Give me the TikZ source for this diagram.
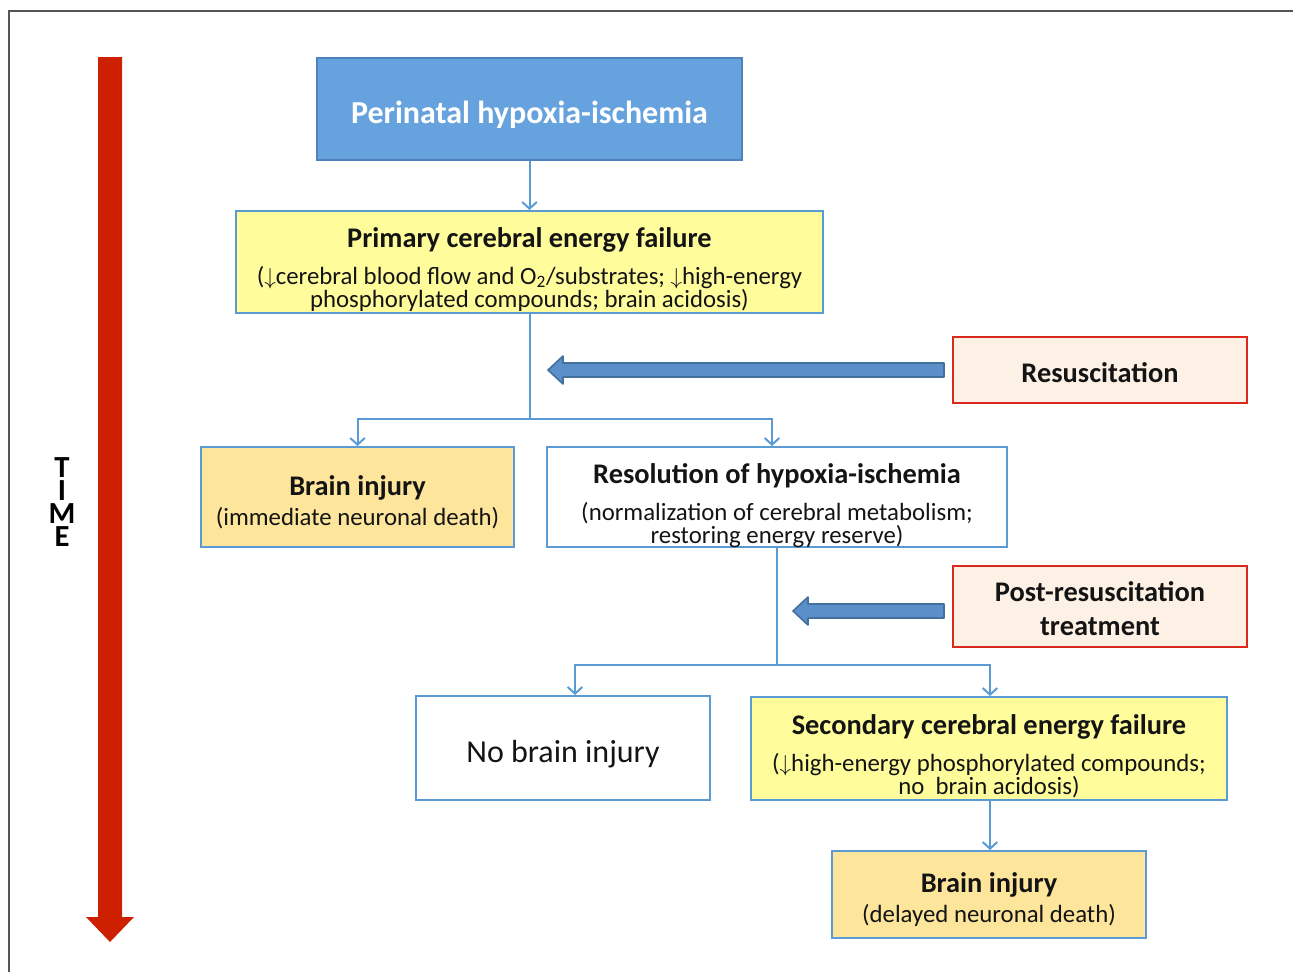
\documentclass[tikz,border=0pt]{standalone}
\usepackage{fontspec}
\setmainfont{Carlito}
\usetikzlibrary{arrows.meta,calc}
\definecolor{framegray}{RGB}{85,85,85}
\definecolor{timered}{RGB}{205,32,0}
\definecolor{hifill}{RGB}{102,163,222}
\definecolor{hiborder}{RGB}{79,129,189}
\definecolor{connblue}{RGB}{91,155,213}
\definecolor{yfill}{RGB}{255,252,155}
\definecolor{ofill}{RGB}{253,229,155}
\definecolor{peach}{RGB}{253,241,230}
\definecolor{redborder}{RGB}{218,40,30}
\definecolor{bafill}{RGB}{91,143,201}
\definecolor{baborder}{RGB}{65,113,156}
\definecolor{txt}{RGB}{20,20,20}
\newcommand{\hd}[1]{{\fontsize{21.3}{17.25}\selectfont\bfseries #1}}
\tikzset{
  box/.style={draw=connblue, line width=1.5pt, inner sep=0pt},
  ybox/.style={box, fill=yfill},
  obox/.style={box, fill=ofill},
  wbox/.style={box, fill=white},
  rbox/.style={box, draw=redborder, fill=peach},
  btext/.style={inner sep=0pt, align=center, text=txt,
    font={\fontsize{18.6}{17.25}\selectfont\lineskiplimit=-20pt}},
  conn/.style={draw=connblue, line width=1.5pt},
  tip/.style={conn, -{Straight Barb[length=5pt,width=11pt,line width=1.5pt]}},
  blockarrow/.style={fill=bafill, draw=baborder, line width=1.2pt, line join=round},
}
\begin{document}
\begin{tikzpicture}[x=0.75pt,y=-0.75pt]
\useasboundingbox (0,0) rectangle (1293,972);
\draw[framegray, line width=1.6pt] (1293,11) -- (9,11) -- (9,972);
% time arrow
\fill[timered] (98,57) -- (122,57) -- (122,917) -- (134,917) -- (110,942) -- (86,917) -- (98,917) -- cycle;
\node[font={\fontsize{23}{17.25}\selectfont\bfseries}, align=center, inner sep=0pt] (time) at (62,502) {T\\I\\M\\E};
% boxes
\node[draw=hiborder, fill=hifill, line width=1.5pt, minimum width=318.75pt, minimum height=76.5pt] (hi) at (529.5,109) {};
\node[text=white, font={\fontsize{24}{28}\selectfont\bfseries}, inner sep=0pt] (hi-t) at ([yshift=-4.5pt]hi.center) {Perinatal hypoxia-ischemia};

\node[ybox, minimum width=440.25pt, minimum height=76.5pt] (pri) at (529.5,262) {};
\node[btext] (pri-t) at ([yshift=-5.6pt]pri.center)
  {\hd{Primary cerebral energy failure}\\[10.5pt](${\downarrow}$cerebral blood flow and O\textsubscript{2}/substrates; ${\downarrow}$high-energy\\phosphorylated compounds; brain acidosis)};

\node[rbox, minimum width=220.5pt, minimum height=49.5pt] (res) at (1100,370) {};
\node[btext] (res-t) at ([yshift=-2.25pt]res.center) {\hd{Resuscitation}};

\node[obox, minimum width=234.75pt, minimum height=75pt] (bi1) at (357.5,497) {};
\node[btext] (bi1-t) at ([yshift=-3.75pt]bi1.center) {\hd{Brain injury}\\[5.6pt](immediate neuronal death)};

\node[wbox, minimum width=345pt, minimum height=75pt] (rol) at (777,497) {};
\node[btext] (rol-t) at ([yshift=-6.4pt]rol.center)
  {\hd{Resolution of hypoxia-ischemia}\\[10.5pt](normalization of cerebral metabolism;\\restoring energy reserve)};

\node[rbox, minimum width=220.5pt, minimum height=60.75pt] (post) at (1100,606.5) {};
\node[btext] (post-t) at ([yshift=-1.5pt]post.center) {\hd{Post-resuscitation}\\[8.25pt]\hd{treatment}};

\node[wbox, minimum width=220.5pt, minimum height=78pt] (nbi) at (563,748) {};
\node[btext, font={\fontsize{24}{28}\selectfont}] (nbi-t) at ([yshift=-4.5pt]nbi.center) {No brain injury};

\node[ybox, minimum width=357pt, minimum height=77.25pt] (sec) at (989,748.5) {};
\node[btext] (sec-t) at ([yshift=-5.6pt]sec.center)
  {\hd{Secondary cerebral energy failure}\\[10.5pt](${\downarrow}$high-energy phosphorylated compounds;\\no\ \ brain acidosis)};

\node[obox, minimum width=235.5pt, minimum height=65.25pt] (bi2) at (989,894.5) {};
\node[btext] (bi2-t) at ([yshift=-3.75pt]bi2.center) {\hd{Brain injury}\\[5.6pt](delayed neuronal death)};
% connectors
\coordinate (j1) at (529.5,419);
\coordinate (j2) at (777,665);
\draw[tip] (hi) -- (pri);
\draw[conn] (pri.south) -- (j1);
\draw[tip] (j1) -| (bi1.north);
\draw[tip] (j1) -| ([xshift=-3.75pt]rol.north);
\draw[conn] (rol.south) -- (j2);
\draw[tip] (j2) -| ([xshift=9pt]nbi.north);
\draw[tip] (j2) -| ([xshift=0.75pt]sec.north);
\draw[tip] ([xshift=0.75pt]sec.south) -- ([xshift=0.75pt]bi2.north);
% block arrows
\coordinate (ra) at (944,370);
\coordinate (rb) at (548,370);
\draw[blockarrow] ($(ra)+(0,-7)$) -- ($(rb)+(15,-7)$) -- ($(rb)+(15,-14)$) -- (rb) -- ($(rb)+(15,14)$) -- ($(rb)+(15,7)$) -- ($(ra)+(0,7)$) -- cycle;
\coordinate (pa) at (944,611);
\coordinate (pb) at (793,611);
\draw[blockarrow] ($(pa)+(0,-7)$) -- ($(pb)+(15,-7)$) -- ($(pb)+(15,-14)$) -- (pb) -- ($(pb)+(15,14)$) -- ($(pb)+(15,7)$) -- ($(pa)+(0,7)$) -- cycle;
\end{tikzpicture}
\end{document}
